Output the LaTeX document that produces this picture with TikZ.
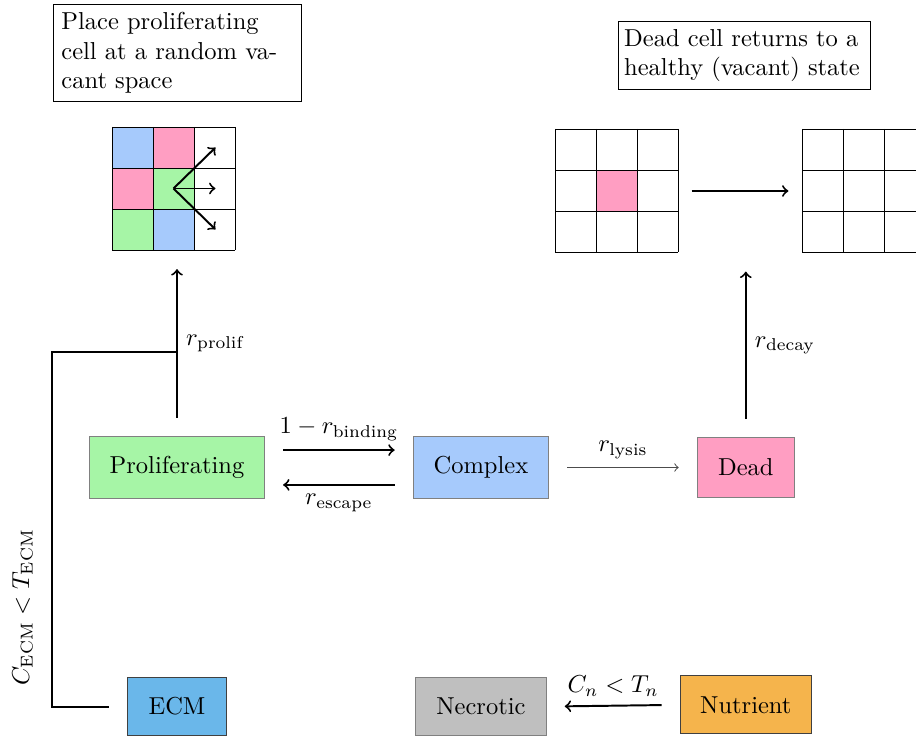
\documentclass[tikz,border=0pt]{standalone}
\usepackage{amsmath}
\usetikzlibrary{positioning}
\usetikzlibrary{arrows}

\definecolor{cellgreen}{RGB}{166,245,166}
\definecolor{cellblue}{RGB}{166,202,252}
\definecolor{cellpink}{RGB}{255,158,194}
\definecolor{ecmblue}{RGB}{106,183,234}
\definecolor{necgray}{RGB}{191,191,191}
\definecolor{nutorange}{RGB}{245,180,76}

\begin{document}
\begin{tikzpicture}[
            > = to, % arrow head style
            x = 0.01435cm, y = -0.01435cm, % one unit = one pixel
            thick,
            cellbox/.style = {draw = gray, thin, minimum height = 0.9cm, inner sep = 2pt},
            notebox/.style = {draw, thin, text width = 3.33cm, align = left},
            gridbox/.style = {minimum size = 1.765cm, inner sep = 0pt},
            link/.style = {shorten <= 0.26cm, shorten >= 0.26cm}
        ]

        \useasboundingbox (0,0) rectangle (916,740);

        % cell states
        \node[cellbox, fill = cellgreen, minimum width = 2.51cm] (P) at (177,467.5) {Proliferating};
        \node[cellbox, fill = cellblue, minimum width = 1.94cm] (C) [right = 2.12cm of P] {Complex};
        \node[cellbox, fill = cellpink, minimum width = 1.39cm, minimum height = 0.85cm] (D) [right = 2.12cm of C] {Dead};

        \node[cellbox, draw = black!75, fill = ecmblue, minimum width = 1.41cm, minimum height = 0.83cm] (ECM) [below = 2.55cm of P] {ECM};
        \node[cellbox, fill = necgray, minimum width = 1.87cm, minimum height = 0.83cm] (NEC) [below = 2.55cm of C] {Necrotic};
        \node[cellbox, draw = black!75, fill = nutorange, minimum width = 1.88cm, minimum height = 0.83cm] (NUT) [below = 2.55cm of D] {Nutrient};

        % notes
        \node[notebox] (noteP) at (177.5,53) {Place proliferating cell at a random vacant space};
        \node[notebox, text width = 3.45cm, inner xsep = 2.2pt] (noteD) at (744.5,55.5) {Dead cell returns to a healthy (vacant) state};

        % lattices
        \node[gridbox] (gridL) at (173.5,188.5) {};
        \node[gridbox] (gridM) at (616.5,191) {};
        \node[gridbox] (gridR) at (863.5,191) {};

        \foreach \col [count=\k from 0] in {cellblue,cellpink,white,cellpink,cellgreen,white,cellgreen,cellblue,white}
          {
            \pgfmathtruncatemacro{\cx}{mod(\k,3)}
            \pgfmathtruncatemacro{\cy}{div(\k,3)}
            \fill[\col] (112+41*\cx,127+41*\cy) rectangle ++(41,41);
          }
        \fill[cellpink] (596,170) rectangle ++(41,41);

        \foreach \gx/\gy in {112/127, 555/129, 802/129}
          \foreach \i in {0,...,3}
            {
              \draw[thin] (\gx+41*\i,\gy) -- ++(0,123);
              \draw[thin] (\gx,\gy+41*\i) -- ++(123,0);
            }

        \foreach \dy in {-41,0,41}
          \draw[->] (gridL.center) -- ++(42,\dy);

        % transitions
        \draw[->, link] (P.north) -- node[right] {$r_{\text{prolif}}$} (P.north |- gridL.south);
        \draw[->, link] ([yshift=0.25cm]P.east) -- node[above] {$1 - r_{\text{binding}}$} ([yshift=0.25cm]C.west);
        \draw[->, link] ([yshift=-0.25cm]C.west) -- node[below] {$r_{\text{escape}}$} ([yshift=-0.25cm]P.east);
        \draw[->, link, thin, black!70] (C.east) -- node[above, black] {$r_{\text{lysis}}$} (D.west);
        \draw[->, link] (D.north) -- node[right] {$r_{\text{decay}}$} (D.north |- gridM.south);
        \draw[->, shorten <= 0.18cm, shorten >= 0.18cm] (gridM.east) -- (gridR.west);
        \draw[->, link] (NUT.west) -- node[above] {$C_n < T_n$} (NEC.east);

        \coordinate (ecmcorner) at (52,352);
        \draw ([xshift=-0.27cm]ECM.west) -| node[pos=0.64, sloped, above=4pt] {$C_{\text{ECM}} < T_{\text{ECM}}$} (ecmcorner) -- (ecmcorner -| P.north);

\end{tikzpicture}
\end{document}
